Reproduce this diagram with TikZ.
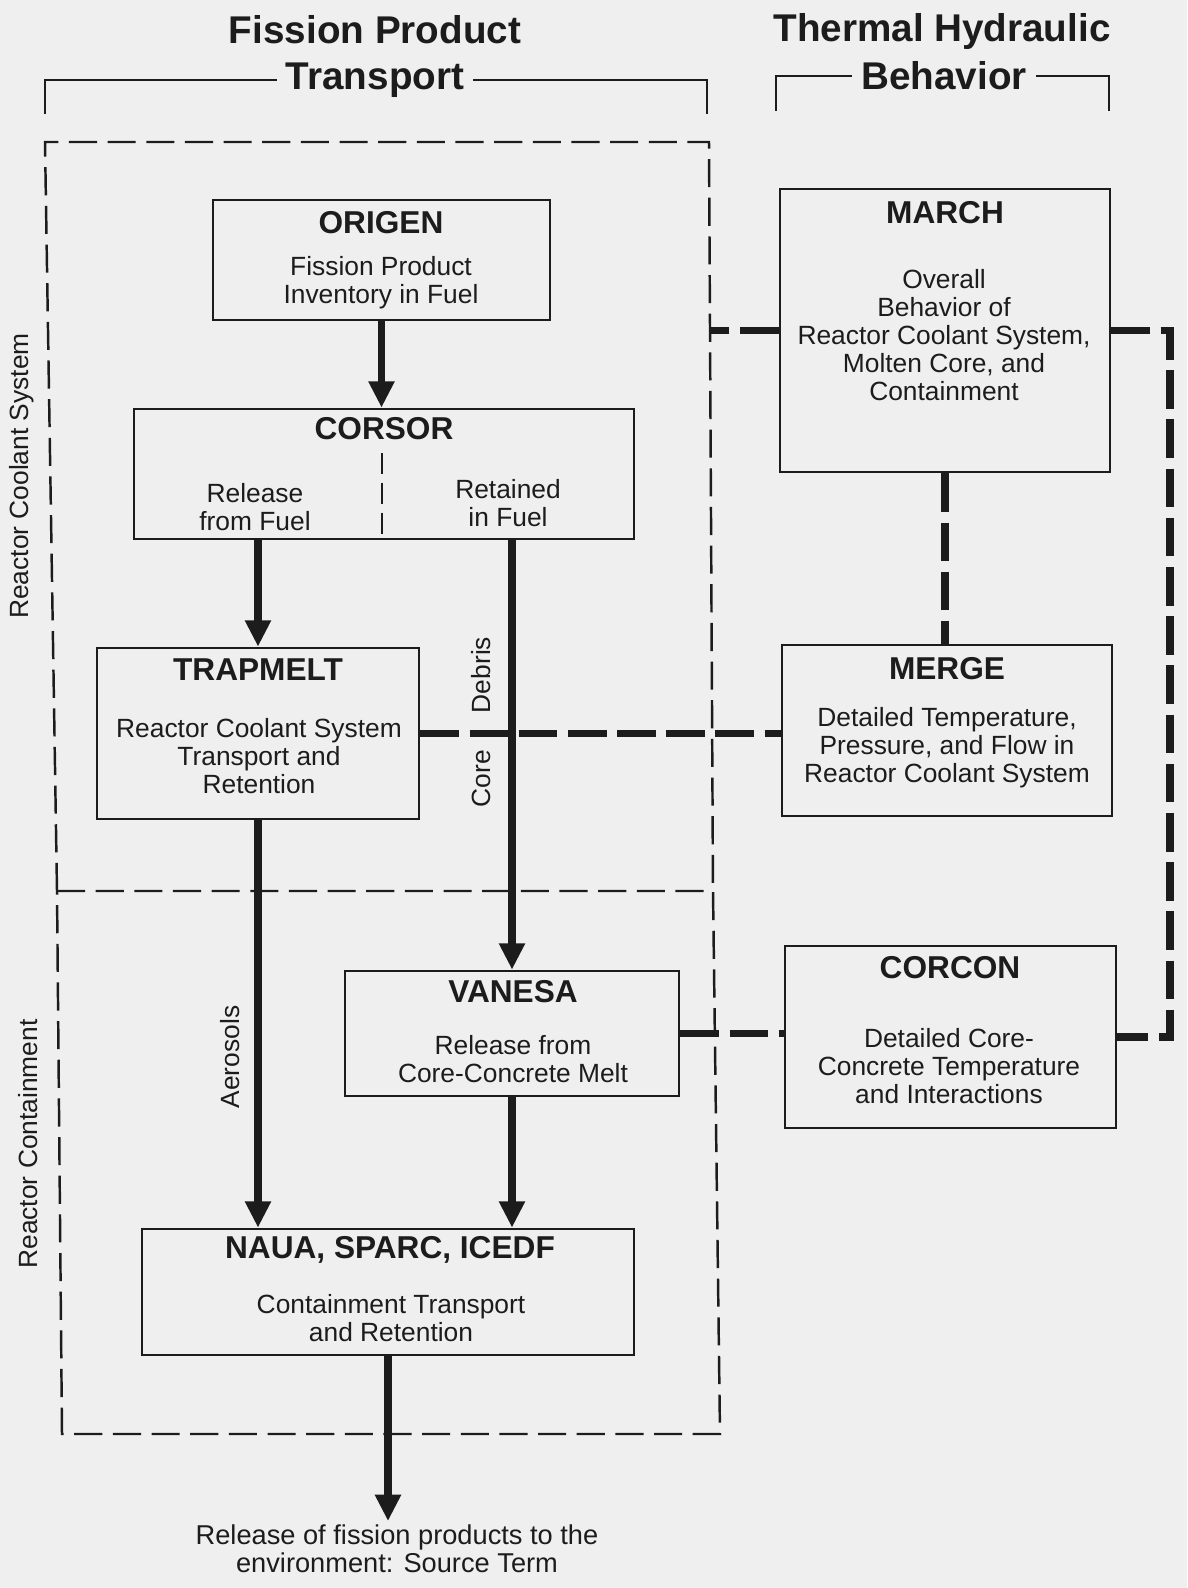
\documentclass[tikz,border=0pt]{standalone}
\usepackage{fontspec}
\setmainfont{Liberation Sans}
\usetikzlibrary{arrows.meta,fit}
\definecolor{paper}{RGB}{239,239,239}
\definecolor{ink}{RGB}{28,28,28}

\begin{document}
\begin{tikzpicture}[x=0.02cm, y=-0.02cm, color=ink,
    box/.style={draw, line width=1.5pt, inner sep=0pt},
    heading/.style={font=\fontsize{22}{24}\selectfont\bfseries, inner sep=5pt},
    codename/.style={font=\fontsize{18}{20}\selectfont\bfseries},
    body/.style={font=\fontsize{15}{16}\selectfont, align=center, inner sep=2pt},
    flow/.style={line width=4.5pt, -{Triangle[length=15pt,width=14pt]}},
    link/.style={line width=4.5pt, dash pattern=on 22pt off 6pt},
    region/.style={line width=1.4pt, dash pattern=on 16pt off 6pt},
    divider/.style={line width=1.2pt, dash pattern=on 12pt off 5pt},
    bracket/.style={line width=1.2pt}]

    % Paper
    \fill[paper] (0,0) rectangle (1187,1588);

    % Column headings
    \node[heading] (fpHead) at (375,30) {Fission Product};
    \node[heading] (tr) at (375,80) {Transport};
    \draw[bracket] (tr.west) -| (45,114);
    \draw[bracket] (tr.east) -| (707,114);
    \node[heading] (thHead) at (942,32) {Thermal Hydraulic};
    \node[heading] (bh) at (944,76) {Behavior};
    \draw[bracket] (bh.west) -| (776,111);
    \draw[bracket] (bh.east) -| (1109,111);

    % Reactor coolant system and containment regions
    \coordinate (rcsNE) at (709,142);
    \draw[region] (57,891) -- (45,142) -- (rcsNE) -- (713,891);
    \draw[region] (57,891) -- (713,891) -- (720,1434) -- (62,1434) -- cycle;
    \node[body, rotate=90] (rcsLabel) at (22,476) {Reactor Coolant System};
    \node[body, rotate=90] (contLabel) at (28,1144) {Reactor Containment};

    % ORIGEN
    \node[box, fit={(213,200) (550,320)}] (origen) {};
    \node[codename] (origenName) at (381,223) {ORIGEN};
    \node[body] (origenText) at (381,283) {Fission Product\\Inventory in Fuel};

    % CORSOR
    \node[box, fit={(134,409) (634,539)}] (corsor) {};
    \node[codename] (corsorName) at (384,429) {CORSOR};
    \coordinate (split) at (382,453);
    \draw[divider] (split) -- (split |- corsor.south);
    \node[body] (release) at (255,507) {Release\\from Fuel};
    \node[body] (retained) at (508,503) {Retained\\in Fuel};

    % TRAPMELT
    \node[box, fit={(97,648) (419,819)}] (trapmelt) {};
    \node[codename] (trapmeltName) at (258,670) {TRAPMELT};
    \node[body] (trapmeltText) at (259,756) {Reactor Coolant System\\Transport and\\Retention};

    % VANESA
    \node[box, fit={(345,971) (679,1096)}] (vanesa) {};
    \node[codename] (vanesaName) at (513,992) {VANESA};
    \node[body] (vanesaText) at (513,1059) {Release from\\Core-Concrete Melt};

    % NAUA, SPARC, ICEDF
    \node[box, fit={(142,1229) (634,1355)}] (naua) {};
    \node[codename] (nauaName) at (390,1250) {NAUA, SPARC, ICEDF};
    \node[body] (nauaText) at (391,1318) {Containment Transport\\and Retention};

    % MARCH
    \node[box, fit={(780,189) (1110,472)}] (march) {};
    \node[codename] (marchName) at (945,213) {MARCH};
    \node[body] (marchText) at (944,335) {Overall\\Behavior of\\Reactor Coolant System,\\Molten Core, and\\Containment};

    % MERGE
    \node[box, fit={(782,645) (1112,816)}] (merge) {};
    \node[codename] (mergeName) at (947,669) {MERGE};
    \node[body] (mergeText) at (947,748) {Detailed Temperature,\\Pressure, and Flow in\\Reactor Coolant System};

    % CORCON
    \node[box, fit={(785,946) (1116,1128)}] (corcon) {};
    \node[codename] (corconName) at (950,968) {CORCON};
    \node[body] (corconText) at (949,1066) {Detailed Core-\\Concrete Temperature\\and Interactions};

    % Source term
    \node[body, font=\fontsize{15.5}{16}\selectfont] (env) at (397,1549) {Release of fission products to the\\environment: Source Term};

    % Fission product flow
    \draw[flow] (origen.south) -- (origen.south |- corsor.north);
    \draw[flow] (trapmelt.north |- corsor.south) -- (trapmelt.north);
    \draw[flow] (vanesa.north |- corsor.south) -- (vanesa.north);
    \draw[flow] (trapmelt.south) -- (trapmelt.south |- naua.north);
    \draw[flow] (vanesa.south) -- (vanesa.south |- naua.north);
    \draw[flow] (naua.south) -- (naua.south |- env.north);
    \node[body, rotate=90] (debris) at (481,722) {Core\hspace{21pt}Debris};
    \node[body, rotate=90] (aerosols) at (230,1057) {Aerosols};

    % Thermal hydraulic links
    \coordinate (rail) at (1170,0);
    \draw[link] (trapmelt.east) -- (trapmelt.east -| merge.west);
    \draw[link] (march.south) -- (march.south |- merge.north);
    \draw[link] (vanesa.east) -- (vanesa.east -| corcon.west);
    \draw[link] (march.west) -- (march.west -| rcsNE);
    \draw[link] (march.east) -- (march.east -| rail) -- (rail |- corcon.east) -- (corcon.east);
\end{tikzpicture}
\end{document}
